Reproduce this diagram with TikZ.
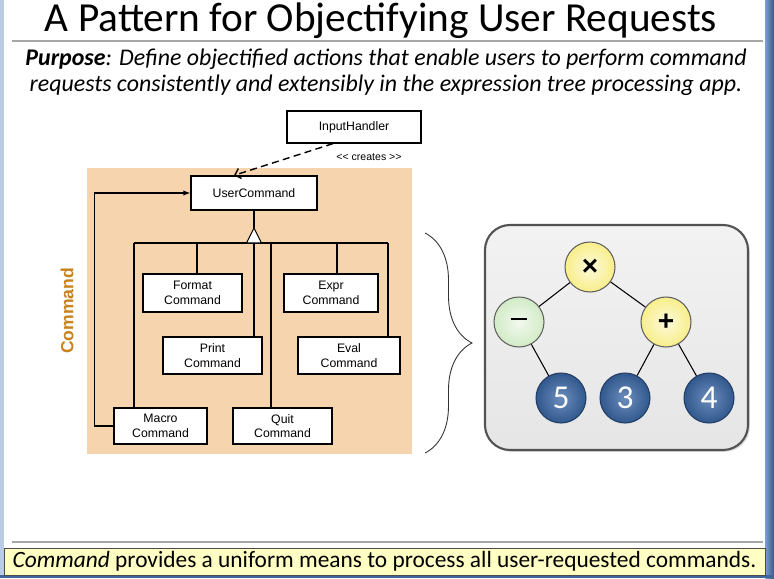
\documentclass[tikz,border=0pt]{standalone}
\usepackage{fontspec}
\setmainfont{Carlito}
\newfontfamily\umlfont{Liberation Sans}
\usetikzlibrary{arrows.meta,shadows,decorations.pathreplacing,calc}
\definecolor{cmdbg}{HTML}{F6D5AE}
\definecolor{cmdtext}{HTML}{C8821E}
\definecolor{opyellow}{HTML}{F8EE8A}
\definecolor{opgreen}{HTML}{D2EBC6}
\definecolor{leafblue}{HTML}{3A67A6}
\definecolor{slideblue}{HTML}{4F7FC0}
\definecolor{notebg}{HTML}{FFFFC4}
\tikzset{
  cls/.style={draw, fill=white, line width=0.7pt, inner sep=1pt, align=center,
    font=\umlfont\fontsize{7}{8.4}\selectfont,
    drop shadow={shadow xshift=0.8pt, shadow yshift=-0.8pt, opacity=0.35}},
  op/.style={circle, draw=gray!75!black, line width=0.6pt, minimum size=1cm,
    inner sep=0pt, font=\umlfont\bfseries\fontsize{16}{16}\selectfont},
  leaf/.style={circle, draw=leafblue!60!black, line width=0.6pt, minimum size=1cm,
    inner sep=0pt, inner color=leafblue!75!white, outer color=leafblue!85!black,
    text=white, font=\fontsize{19}{19}\selectfont},
  wire/.style={line width=0.6pt}
}
\begin{document}
\begin{tikzpicture}[x=0.02cm,y=-0.02cm]
\useasboundingbox (0,0) rectangle (774,578);
\fill[white] (0,0) rectangle (774,578);
\fill[slideblue!40!white] (0,0) rectangle (4,578);
\shade[left color=slideblue!75!white, right color=slideblue!70!black] (765,0) rectangle (774,578);
\fill[slideblue!80!black] (0,575) rectangle (774,578);
\draw[gray!70, line width=1pt] (12,41) -- (763,41) (12,542) -- (763,542);

\node (title) at (381,21) {\fontsize{23.5}{26}\selectfont A Pattern for Objectifying User Requests};
\node (purpose) at (386,72) [align=center, font=\fontsize{13.6}{14.7}\selectfont\itshape]
  {\textbf{Purpose}: Define objectified actions that enable users to perform command\\
   requests consistently and extensibly in the expression tree processing app.};

% command pattern
\fill[cmdbg] (87,168) rectangle (412,454);
\node (cmdlabel) at (67,311) [rotate=90, text=cmdtext, font=\umlfont\bfseries\fontsize{10}{12}\selectfont] {Command};
\node[cls, minimum width=2.68cm, minimum height=0.64cm] (InputHandler) at (354,127) {InputHandler};
\node (creates) at (369,157) [font=\umlfont\fontsize{6}{7}\selectfont] {<< creates >>};
\node[cls, minimum width=2.52cm, minimum height=0.68cm] (UserCommand) at (254,193) {UserCommand};
\node[cls, minimum width=1.98cm, minimum height=0.76cm] (FormatCommand) at (192.5,293) {Format\\Command};
\node[cls, minimum width=1.88cm, minimum height=0.76cm] (ExprCommand) at (331,293) {Expr\\Command};
\node[cls, minimum width=1.98cm, minimum height=0.74cm] (PrintCommand) at (212.5,355.5) {Print\\Command};
\node[cls, minimum width=2.04cm, minimum height=0.74cm] (EvalCommand) at (349,355.5) {Eval\\Command};
\node[cls, minimum width=1.86cm, minimum height=0.72cm] (MacroCommand) at (160.5,426) {Macro\\Command};
\node[cls, minimum width=1.98cm, minimum height=0.72cm] (QuitCommand) at (282.5,426) {Quit\\Command};

\draw[line width=0.8pt, dash pattern=on 4pt off 2.5pt, -{Straight Barb[length=3pt]}]
  ($(InputHandler.south)+(-21,0)$) -- ($(UserCommand.north)+(-20,0)$);
\coordinate (tip) at (254,228);
\draw[wire] (UserCommand.south) -- (tip);
\draw[wire] (134,243) -- (388,243);
\foreach \x/\cmd in {134/MacroCommand,197/FormatCommand,254/PrintCommand,271/QuitCommand,337/ExprCommand,388/EvalCommand}
  \draw[wire] (\x,243) -- (\x,243 |- \cmd.north);
\draw[wire, fill=white] (tip) -- ++(7.5,15) -- ++(-15,0) -- cycle;
\draw[wire, -{Latex[length=4pt,width=3pt]}] (MacroCommand.west) -- ++(-19,0) |- (UserCommand.west);

\draw[gray!40!black, line width=0.5pt, decorate, decoration={brace, amplitude=0.94cm}] (425,233) -- (425,453);

% expression tree
\draw[gray!65!black, line width=1.2pt, rounded corners=0.5cm, top color=gray!10, bottom color=gray!20,
  drop shadow={shadow xshift=1pt, shadow yshift=-1pt, opacity=0.3}] (485,225) rectangle (748,450);
\node[op, inner color=opyellow!30!white, outer color=opyellow] (times) at (590,267) {×};
\node[op, inner color=opgreen!30!white, outer color=opgreen] (minus) at (519,322) {\rule[0.22em]{0.6em}{0.09em}};
\node[op, inner color=opyellow!30!white, outer color=opyellow] (plus) at (666,322) {+};
\node[leaf] (five) at (561,398) {5};
\node[leaf] (three) at (625,398) {3};
\node[leaf] (four) at (709,398) {4};
\draw[wire] (times) -- (minus) (times) -- (plus) (minus) -- (five) (plus) -- (three) (plus) -- (four);

\node[draw=gray!60!black, fill=notebg, minimum width=15.22cm, minimum height=0.54cm, inner sep=0pt,
  font=\fontsize{13.3}{16}\selectfont] (note) at (384.5,561.5)
  {\textit{Command} provides a uniform means to process all user-requested commands.};
\end{tikzpicture}
\end{document}
